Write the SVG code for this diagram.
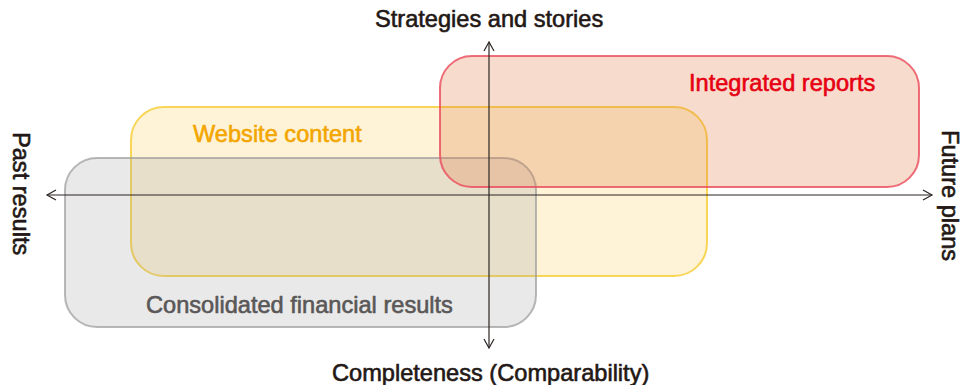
<svg xmlns="http://www.w3.org/2000/svg" width="963" height="385" viewBox="0 0 963 385">
  <style>
    .lbl { font-family: "Liberation Sans", Arial, sans-serif; font-size: 23.6px; stroke-width: 0.6px; stroke-linejoin: round; }
    .axis { stroke: #2b2523; stroke-width: 1.2; fill: none; }
    .box { stroke-width: 2; }
  </style>
  <defs>
    <marker id="arr" markerUnits="userSpaceOnUse" markerWidth="14" markerHeight="14" viewBox="-11 -7 14 14" refX="0" refY="0" orient="auto-start-reverse">
      <path d="M-9,-5 L0,0 L-9,5" fill="none" stroke="#2b2523" stroke-width="1.2"/>
    </marker>
  </defs>
  <rect width="963" height="385" fill="#ffffff"/>

  <g id="website-content">
    <rect class="box" x="131" y="107" width="576" height="169" rx="33" ry="33" fill="#fbd36a" fill-opacity="0.27" stroke="#f7cf3c" stroke-opacity="0.85"/>
    <text class="lbl" x="193" y="142" fill="#f3a600" stroke="#f3a600">Website content</text>
  </g>

  <g id="consolidated-financial-results">
    <rect class="box" x="65" y="158" width="471" height="169" rx="32" ry="32" fill="#a0a0a0" fill-opacity="0.23" stroke="#9a9a9a" stroke-opacity="0.7"/>
    <text class="lbl" x="146" y="313" fill="#595757" stroke="#595757">Consolidated financial results</text>
  </g>

  <g id="integrated-reports">
    <rect class="box" x="440" y="56" width="479" height="131" rx="32" ry="32" fill="#df7337" fill-opacity="0.25" stroke="#ea4a5a" stroke-opacity="0.8"/>
    <text class="lbl" x="689" y="91" fill="#e60012" stroke="#e60012">Integrated reports</text>
  </g>

  <g id="connectors">
    <line class="axis" x1="47" y1="195" x2="932" y2="195" marker-start="url(#arr)" marker-end="url(#arr)"/>
    <line class="axis" x1="489" y1="348" x2="489" y2="42" marker-start="url(#arr)" marker-end="url(#arr)"/>
  </g>

  <g id="axis-labels">
    <text class="lbl" x="375" y="27" fill="#231815" stroke="#231815">Strategies and stories</text>
    <text class="lbl" x="332" y="381" fill="#231815" stroke="#231815">Completeness (Comparability)</text>
    <text class="lbl" transform="translate(13,132) rotate(90)" x="0" y="0" fill="#231815" stroke="#231815">Past results</text>
    <text class="lbl" transform="translate(942,130) rotate(90)" x="0" y="0" fill="#231815" stroke="#231815">Future plans</text>
  </g>
</svg>
